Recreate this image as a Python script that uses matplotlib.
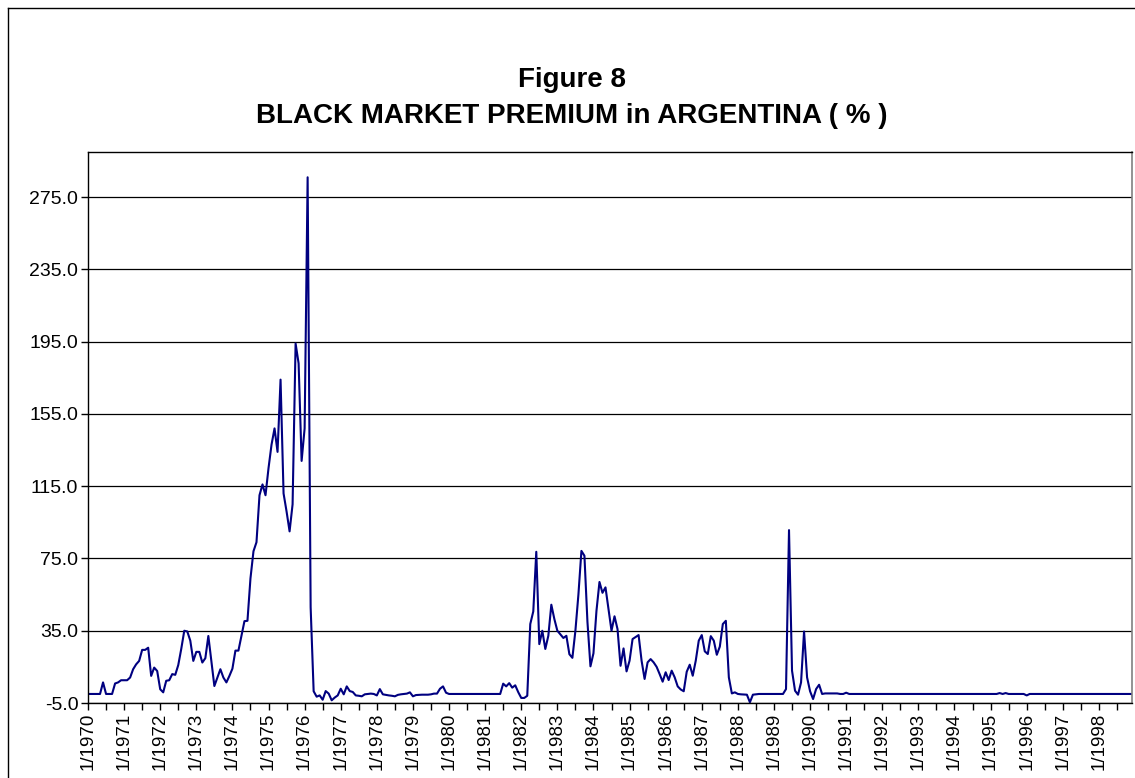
import numpy as np
import matplotlib
matplotlib.use('Agg')
import matplotlib.pyplot as plt
from matplotlib.lines import Line2D

plt.rcParams['font.family'] = ['Liberation Sans', 'DejaVu Sans']

# monthly black market premium (%), Jan 1970 - Dec 1998
y1970 = [0, 0, 0, 0, 0, 6.4, 0, 0, 0, 5.8, 6.4, 7.6]
y1971 = [7.6, 7.6, 9.1, 13.7, 16.4, 18.3, 24.4, 24.4, 25.6, 10.0, 14.6, 12.7]
y1972 = [2.6, 0.9, 7.3, 7.6, 11.0, 10.6, 16.0, 25.0, 35.0, 34.6, 29.5, 18.3]
y1973 = [23.3, 23.3, 17.4, 19.8, 32.1, 18.0, 4.4, 9.1, 13.7, 9.1, 6.4, 10.0]
y1974 = [14.0, 24.0, 24.0, 32.0, 40.3, 40.5, 64.0, 79.0, 84.0, 110.0, 116.0, 110.0]
y1975 = [125.0, 138.0, 147.0, 134.0, 174.0, 111.0, 101.0, 90.0, 105.0, 194.0, 183.0, 129.0]
y1976 = [147.0, 286.0, 48.0, 1.5, -1.5, -0.8, -3.2, 1.6, 0.2, -3.5, -2.0, -0.8]
y1977 = [2.9, -0.2, 4.2, 1.6, 1.1, -0.8, -1.0, -1.3, -0.2, 0.0, 0.2, 0.0]
y1978 = [-0.8, 2.7, -0.2, -0.5, -0.8, -1.0, -1.3, -0.5, -0.2, 0.0, 0.2, 0.9]
y1979 = [-1.3, -0.6, -0.5, -0.4, -0.4, -0.4, -0.2, 0.2, 0.2, 2.9, 4.2, 0.7]
y1980 = [0, 0, 0, 0, 0, 0, 0, 0, 0, 0, 0, 0]
y1981 = [0, 0, 0, 0, 0, 0, 5.7, 4.2, 6.0, 3.5, 4.8, 1.0]
y1982 = [-2.2, -2.2, -1.0, 38.7, 45.7, 78.7, 27.6, 35.0, 24.9, 32.2, 49.4, 41.5]
y1983 = [35.0, 33.0, 31.0, 32.2, 22.0, 20.0, 35.0, 55.0, 79.2, 76.5, 40.0, 15.3]
y1984 = [22.5, 46.0, 62.0, 56.0, 59.0, 47.0, 35.0, 43.0, 35.9, 15.6, 25.2, 12.5]
y1985 = [18.4, 30.4, 31.5, 32.6, 18.4, 8.3, 17.5, 19.3, 17.5, 15.0, 11.0, 6.8]
y1986 = [12.0, 7.7, 12.9, 9.2, 4.2, 2.5, 1.5, 12.3, 16.2, 10.1, 18.4, 29.5]
y1987 = [32.6, 23.6, 22.1, 32.0, 29.5, 21.7, 26.2, 38.7, 40.5, 9.2, 0.3, 0.9]
y1988 = [0.0, -0.2, -0.3, -0.4, -4.6, -0.4, -0.2, 0, 0, 0, 0, 0]
y1989 = [0, 0, 0, 0, 2.7, 90.7, 12.9, 1.8, -0.4, 6.4, 34.6, 9.2]
y1990 = [1.5, -2.8, 2.7, 5.1, 0.0, 0.3, 0.3, 0.3, 0.3, 0.3, 0.0, 0.0]
y1991 = [0.7, 0, 0, 0, 0, 0, 0, 0, 0, 0, 0, 0]
y1992 = [0, 0, 0, 0, 0, 0, 0, 0, 0, 0, 0, 0]
y1993 = [0, 0, 0, 0, 0, 0, 0, 0, 0, 0, 0, 0]
y1994 = [0, 0, 0, 0, 0, 0, 0, 0, 0, 0, 0, 0]
y1995 = [0, 0, 0, 0.5, 0, 0.5, 0, 0, 0, 0, 0, 0]
y1996 = [-0.8, 0, 0, 0, 0, 0, 0, 0, 0, 0, 0, 0]
y1997 = [0, 0, 0, 0, 0, 0, 0, 0, 0, 0, 0, 0]
y1998 = [0, 0, 0, 0, 0, 0, 0, 0, 0, 0, 0, 0]

years = list(range(1970, 1999))
premium = (y1970 + y1971 + y1972 + y1973 + y1974 + y1975 + y1976 + y1977 + y1978 +
           y1979 + y1980 + y1981 + y1982 + y1983 + y1984 + y1985 + y1986 + y1987 +
           y1988 + y1989 + y1990 + y1991 + y1992 + y1993 + y1994 + y1995 + y1996 +
           y1997 + y1998)
year_labels = ['1/%d' % y for y in years]
y_ticks = [-5, 35, 75, 115, 155, 195, 235, 275]

W, H = 1135, 778
fig = plt.figure(figsize=(W / 100, H / 100), dpi=100)
ax = fig.add_axes([88 / W, 1 - 703 / H, (1132 - 88) / W, (703 - 152) / H])

months = np.arange(len(premium))
ax.plot(months, premium, color='#000080', lw=1.5, solid_joinstyle='round')

ax.set_xlim(0, len(premium) - 1)
ax.set_ylim(-5, 300)
ax.set_yticks(y_ticks)
ax.set_yticklabels(['%.1f' % v for v in y_ticks], fontsize=14)
ax.set_xticks(np.arange(0, len(premium), 12))
ax.set_xticklabels(year_labels, rotation=90, fontsize=13.5)
ax.set_xticks(np.arange(6, len(premium), 12), minor=True)
ax.tick_params(axis='both', which='both', direction='out', length=5, width=1, color='black', pad=2)
ax.grid(axis='y', color='black', lw=0.9)
ax.set_axisbelow(True)

for s in ['left', 'bottom', 'top']:
    ax.spines[s].set_color('black')
    ax.spines[s].set_linewidth(1)
ax.spines['right'].set_color('#808080')
ax.spines['right'].set_linewidth(1.2)

fig.text(0.504, 1 - 80 / H, 'Figure 8', ha='center', va='center',
         fontsize=20, fontweight='bold')
fig.text(0.504, 1 - 116 / H, 'BLACK MARKET PREMIUM in ARGENTINA ( % )', ha='center', va='center',
         fontsize=20, fontweight='bold')

# outer chart frame
fig.add_artist(Line2D([8 / W, 8 / W], [0, 1 - 8 / H], color='black', lw=1, transform=fig.transFigure))
fig.add_artist(Line2D([8 / W, 1], [1 - 8 / H, 1 - 8 / H], color='black', lw=1, transform=fig.transFigure))

fig.savefig('out.png', dpi=100)
